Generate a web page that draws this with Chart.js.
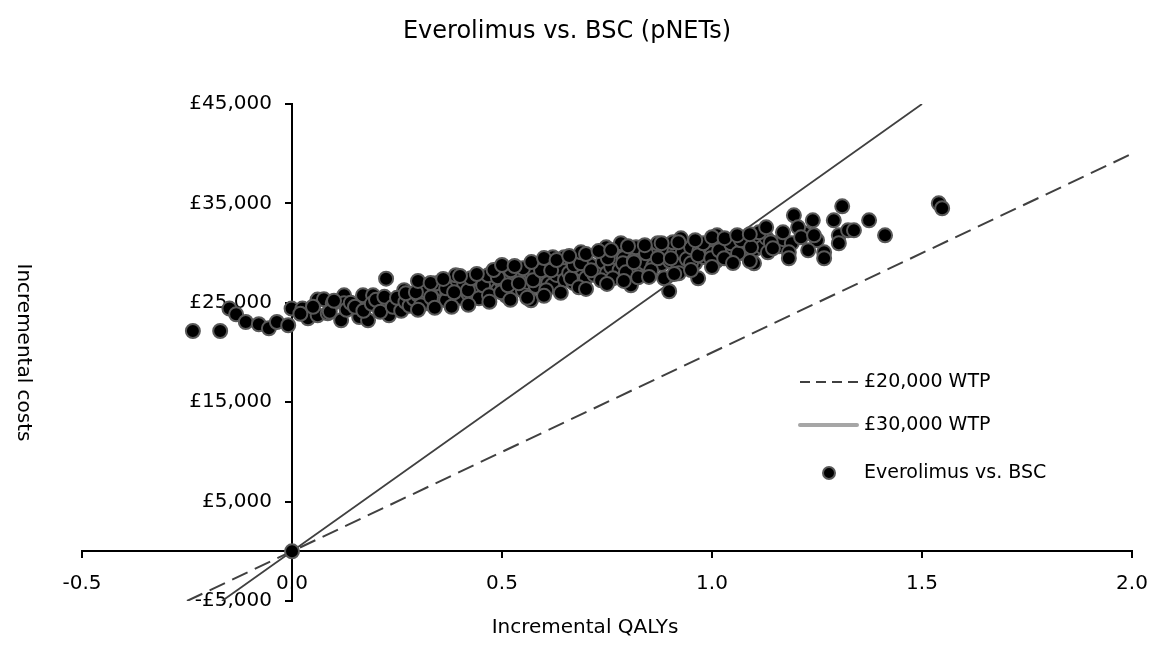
<!DOCTYPE html>
<html>
<head>
<meta charset="utf-8">
<title>Everolimus vs. BSC (pNETs)</title>
<script src="https://cdn.jsdelivr.net/npm/chart.js@4.4.1/dist/chart.umd.min.js"></script>
<style>
  html, body { margin: 0; padding: 0; background: #fff; }
  #wrap { width: 1168px; height: 646px; position: relative; }
</style>
</head>
<body>
<div id="wrap"><canvas id="ce-plane"></canvas></div>
<script>
// ── Data ────────────────────────────────────────
const chartTitle = 'Everolimus vs. BSC (pNETs)';
const xTitle = 'Incremental QALYs';
const yTitle = 'Incremental costs';
const xTickValues = [-0.5, 0.0, 0.5, 1.0, 1.5, 2.0];
const yTickValues = [-5000, 5000, 15000, 25000, 35000, 45000];

// WTP threshold lines (QALY, cost) end points
const wtp20Qalys = [-0.25, 2.0];
const wtp20Costs = [-5000, 40000];
const wtp30Qalys = [-0.1667, 1.5];
const wtp30Costs = [-5000, 45000];

// PSA simulations: [incremental QALYs, incremental costs]
const psaPoints = [
  [0, 0],
  [-0.236, 22160], [-0.171, 22160], [-0.149, 24420], [-0.133, 23840], [-0.110, 23070],
  [-0.079, 22840], [-0.055, 22430], [-0.036, 23070], [-0.009, 22740], [-0.001, 24420],
  [0.025, 24420], [0.038, 23440], [0.061, 25320], [0.061, 23740], [0.076, 25350],
  [0.085, 23940], [0.097, 24950], [0.117, 23240], [0.124, 25750], [0.124, 24950],
  [0.160, 23570], [0.169, 25750], [0.181, 23240], [0.193, 25750], [0.207, 24950],
  [0.224, 27430], [0.231, 23740], [0.260, 24950], [0.267, 26260],
  [0.02, 23900], [0.05, 24600], [0.09, 24100], [0.10, 25200], [0.13, 24300],
  [0.14, 25000], [0.15, 24600], [0.17, 24200], [0.19, 24900], [0.20, 25300],
  [0.21, 24100], [0.22, 25600], [0.24, 24600], [0.25, 25500], [0.26, 24200],
  [0.27, 25100], [0.28, 24700], [0.29, 25400], [0.30, 25800], [0.31, 25300],
  [0.32, 26200], [0.33, 24900], [0.35, 25600], [0.36, 26300], [0.37, 25900],
  [0.38, 25000], [0.39, 26600], [0.40, 25500], [0.41, 26900], [0.42, 25900],
  [0.43, 26500], [0.44, 26100], [0.45, 27200], [0.46, 26400], [0.47, 25900],
  [0.48, 26800], [0.49, 26300], [0.50, 27100], [0.51, 25700], [0.52, 27400],
  [0.53, 26500], [0.54, 27800], [0.55, 26200], [0.56, 27100], [0.57, 27900],
  [0.58, 26700], [0.59, 27500], [0.60, 28000], [0.61, 27000], [0.62, 26800],
  [0.63, 27800], [0.64, 28400], [0.65, 27300], [0.66, 28000], [0.67, 27000],
  [0.68, 27700], [0.69, 28400], [0.70, 27500], [0.71, 28800], [0.72, 27800],
  [0.73, 28300], [0.74, 29100], [0.75, 28000], [0.76, 28600], [0.77, 29600],
  [0.78, 28300], [0.79, 29500], [0.80, 28800], [0.81, 27800], [0.82, 28500],
  [0.83, 29800], [0.84, 29000], [0.85, 30300], [0.86, 28700], [0.87, 29900],
  [0.88, 28900], [0.89, 30500], [0.90, 29200], [0.91, 30100], [0.92, 28700],
  [0.93, 30000], [0.94, 29400], [0.95, 30600], [0.96, 29000], [0.97, 30200],
  [0.98, 29600], [0.99, 30700], [1.00, 30000], [1.01, 29200], [1.03, 30600],
  [1.04, 29800], [1.05, 30300], [1.07, 30700], [1.08, 29900], [1.10, 30300],
  [1.11, 31200], [1.12, 30600], [1.13, 31500], [1.15, 31000], [1.16, 30700],
  [1.17, 31400], [1.19, 31000], [1.22, 32000], [1.25, 31300],
  [0.271, 25950], [0.295, 26060], [0.307, 24750], [0.331, 25550], [0.343, 26960],
  [0.367, 25250], [0.367, 26460], [0.390, 27770], [0.386, 26060], [0.419, 26260],
  [0.426, 27460], [0.445, 25450], [0.455, 26760], [0.467, 27770], [0.469, 25750],
  [0.490, 27560], [0.498, 26060], [0.514, 26760], [0.521, 28270], [0.540, 26960],
  [0.550, 28470], [0.569, 25250], [0.574, 27260], [0.593, 28270], [0.605, 26260],
  [0.617, 28270], [0.621, 29580], [0.648, 29580], [0.664, 27460], [0.671, 28770],
  [0.688, 28970], [0.683, 26560], [0.688, 30080], [0.712, 28270], [0.736, 27260],
  [0.748, 30580], [0.752, 29480], [0.764, 27460], [0.783, 30990], [0.788, 28970],
  [0.795, 28070], [0.807, 26760], [0.814, 29270],
  [0.819, 30580], [0.814, 29070], [0.824, 27560], [0.843, 29980], [0.855, 28270],
  [0.871, 30990], [0.871, 29480], [0.886, 27460], [0.902, 29480], [0.907, 31090],
  [0.926, 31490], [0.921, 27970], [0.950, 28970], [0.967, 29780], [0.967, 27460],
  [0.898, 26160], [0.979, 30990], [0.998, 29480], [1.012, 31790], [1.017, 30280],
  [1.029, 29480], [1.045, 30990], [1.062, 29980], [1.069, 31290], [1.093, 30580],
  [1.100, 28970], [1.112, 32090], [1.129, 32590], [1.133, 30080], [1.140, 31090],
  [1.145, 30480], [1.169, 32090], [1.183, 30080], [1.183, 29480], [1.195, 33800],
  [1.205, 32590], [1.212, 31590], [1.229, 30280], [1.240, 33300], [1.243, 31790],
  [1.267, 30080], [1.267, 29480], [1.290, 33300], [1.302, 31790], [1.302, 30990],
  [1.310, 34710], [1.324, 32290], [1.338, 32290], [1.374, 33300], [1.412, 31790],
  [1.540, 35010], [1.548, 34510],
  // upper edge of the cloud
  [0.30, 27200], [0.33, 27000], [0.36, 27400], [0.40, 27700], [0.44, 27900],
  [0.48, 28300], [0.50, 28800], [0.53, 28700], [0.57, 29100], [0.60, 29500],
  [0.63, 29300], [0.66, 29700], [0.70, 29900], [0.73, 30200], [0.76, 30300],
  [0.80, 30700], [0.84, 30800], [0.88, 31000], [0.92, 31100], [0.96, 31300],
  [1.00, 31600], [1.03, 31500], [1.06, 31800], [1.09, 31900],
  // lower edge of the cloud
  [0.30, 24300], [0.34, 24500], [0.38, 24600], [0.42, 24800], [0.47, 25100],
  [0.52, 25300], [0.56, 25500], [0.60, 25700], [0.64, 26000], [0.70, 26400],
  [0.75, 26900], [0.79, 27200], [0.85, 27600], [0.91, 27900], [0.95, 28300],
  [1.00, 28600], [1.05, 29000], [1.09, 29200]
];

const FONT = 'DejaVu Sans';
const INK = '#000000';
const LINE_GREY = '#404040';

Chart.defaults.font.family = FONT;
Chart.defaults.color = INK;

// centred y axis ignores tick padding, so the gap is carried by an em space
function fmtCost(v) {
  return (v < 0 ? '-£' : '£') + Math.abs(v).toLocaleString('en-GB') + '\u2003';
}

// ── Titles + legend placed the way Excel placed them ───
const excelDecor = {
  id: 'excelDecor',
  afterDraw(chart) {
    const { ctx } = chart;
    ctx.save();
    ctx.fillStyle = INK;
    ctx.textAlign = 'center';
    ctx.textBaseline = 'middle';
    ctx.font = '24px ' + FONT;
    ctx.fillText(chartTitle, 567, 32);
    ctx.font = '20px ' + FONT;
    ctx.fillText(xTitle, 585, 628);

    const items = [
      { kind: 'dash',  text: '£20,000 WTP', y: 382 },
      { kind: 'solid', text: '£30,000 WTP', y: 425 },
      { kind: 'dot',   text: 'Everolimus vs. BSC', y: 473 },
    ];
    ctx.font = '19px ' + FONT;
    ctx.textAlign = 'left';
    items.forEach(it => {
      ctx.save();
      if (it.kind === 'dash') {
        ctx.strokeStyle = LINE_GREY;
        ctx.lineWidth = 2;
        ctx.setLineDash([10, 6]);
        ctx.beginPath(); ctx.moveTo(800, it.y); ctx.lineTo(862, it.y); ctx.stroke();
      } else if (it.kind === 'solid') {
        ctx.strokeStyle = '#a6a6a6';
        ctx.lineWidth = 4;
        ctx.lineCap = 'round';
        ctx.beginPath(); ctx.moveTo(800, it.y); ctx.lineTo(857, it.y); ctx.stroke();
      } else {
        ctx.fillStyle = INK;
        ctx.strokeStyle = '#595959';
        ctx.lineWidth = 2;
        ctx.beginPath(); ctx.arc(829, it.y, 6, 0, Math.PI * 2); ctx.fill(); ctx.stroke();
      }
      ctx.restore();
      ctx.fillText(it.text, 864, it.y);
    });
    ctx.restore();
  }
};

new Chart(document.getElementById('ce-plane'), {
  type: 'scatter',
  data: {
    datasets: [
      {
        label: 'Everolimus vs. BSC',
        data: psaPoints.map(p => ({ x: p[0], y: p[1] })),
        pointRadius: 7,
        pointBackgroundColor: '#000000',
        pointBorderColor: '#595959',
        pointBorderWidth: 2,
      },
      {
        label: '£30,000 WTP',
        data: wtp30Qalys.map((q, i) => ({ x: q, y: wtp30Costs[i] })),
        showLine: true,
        borderColor: LINE_GREY,
        borderWidth: 1.8,
        pointRadius: 0,
      },
      {
        label: '£20,000 WTP',
        data: wtp20Qalys.map((q, i) => ({ x: q, y: wtp20Costs[i] })),
        showLine: true,
        borderColor: LINE_GREY,
        borderWidth: 2,
        borderDash: [17, 8],
        pointRadius: 0,
      },
    ]
  },
  options: {
    responsive: true,
    maintainAspectRatio: false,
    animation: false,
    layout: { padding: { left: 82, right: 36, top: 104, bottom: 45 } },
    plugins: {
      legend: { display: false },
      tooltip: { enabled: false },
      title: { display: false },
    },
    scales: {
      x: {
        type: 'linear',
        position: { y: 0 },
        min: -0.5,
        max: 2.0,
        afterBuildTicks: axis => { axis.ticks = xTickValues.map(v => ({ value: v })); },
        ticks: { color: INK, font: { size: 20 }, padding: 14, callback: v => Number(v).toFixed(1) },
        grid: { drawOnChartArea: false, drawTicks: true, tickLength: 6, color: INK, lineWidth: 2 },
        border: { display: true, color: INK, width: 2 },
      },
      y: {
        type: 'linear',
        position: { x: 0 },
        min: -5000,
        max: 45000,
        afterBuildTicks: axis => { axis.ticks = yTickValues.map(v => ({ value: v })); },
        ticks: { color: INK, font: { size: 20 }, padding: 15, callback: v => fmtCost(v) },
        grid: { drawOnChartArea: false, drawTicks: true, tickLength: 6, color: INK, lineWidth: 2 },
        border: { display: true, color: INK, width: 2 },
        title: {
          display: true,
          text: yTitle,
          color: INK,
          font: { size: 20 },
          padding: { top: 118, bottom: 118 },
        },
      },
    },
  },
  plugins: [excelDecor],
});
</script>
</body>
</html>
